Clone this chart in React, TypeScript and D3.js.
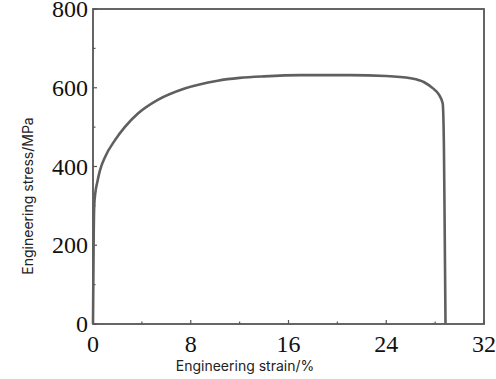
import React from "react";
import * as d3 from "d3";

const strain = [0, 0.03, 0.06, 0.1, 0.2, 0.35, 0.57, 1.0, 1.8, 2.6, 3.7, 5.3, 7.5, 10.2, 12, 14, 17, 21, 24, 26, 27.1, 27.8, 28.3, 28.62, 28.72, 28.78, 28.85];
const stress = [0, 120, 230, 300, 335, 360, 390, 425, 467, 500, 535, 569, 598, 618, 625, 629, 632, 632, 630, 624, 614, 599, 583, 560, 450, 250, 0];
const xTicks = [0, 8, 16, 24, 32];
const xMinor = [4, 12, 20, 28];
const yTicks = [0, 200, 400, 600, 800];
const yMinor = [100, 300, 500, 700];

export default function App() {
  const W = 496, H = 379;
  const L = 93, R = 484, T = 9, B = 324;
  const x = d3.scaleLinear().domain([0, 32]).range([L, R]);
  const y = d3.scaleLinear().domain([0, 800]).range([B, T]);
  const pts = strain.map((s, i) => [s, stress[i]] as [number, number]);
  const line = d3.line<[number, number]>().x(d => x(d[0])).y(d => y(d[1])).curve(d3.curveMonotoneX);
  const axisColor = "#555";
  return (
    <svg width={W} height={H} style={{ position: "absolute", left: 0, top: 0, background: "#fff" }}>
      <rect x={L} y={T} width={R - L} height={B - T} fill="none" stroke={axisColor} strokeWidth={1.8} />
      {xTicks.map(t => (
        <g key={"xt" + t}>
          <line x1={x(t)} x2={x(t)} y1={B} y2={B - 4} stroke={axisColor} strokeWidth={1.2} />
          <text x={x(t)} y={352} textAnchor="middle" fontFamily="Liberation Serif, Times New Roman, serif" fontSize={24} fill="#111">{t}</text>
        </g>
      ))}
      {xMinor.map(t => (
        <line key={"xm" + t} x1={x(t)} x2={x(t)} y1={B} y2={B - 2.5} stroke={axisColor} strokeWidth={1.2} />
      ))}
      {yTicks.map(t => (
        <g key={"yt" + t}>
          <line x1={L} x2={L + 4} y1={y(t)} y2={y(t)} stroke={axisColor} strokeWidth={1.2} />
          <text x={88} y={y(t) + 8} textAnchor="end" fontFamily="Liberation Serif, Times New Roman, serif" fontSize={24} fill="#111">{t}</text>
        </g>
      ))}
      {yMinor.map(t => (
        <line key={"ym" + t} x1={L} x2={L + 2.5} y1={y(t)} y2={y(t)} stroke={axisColor} strokeWidth={1.2} />
      ))}
      <path d={line(pts) || ""} fill="none" stroke="#5f5f5f" strokeWidth={2.6} strokeLinejoin="round" />
      <text x={245} y={371} textAnchor="middle" fontFamily="Inter, Roboto, sans-serif" fontSize={14} fill="#222">Engineering strain/%</text>
      <text transform="translate(33,196) rotate(-90)" textAnchor="middle" fontFamily="Inter, Roboto, sans-serif" fontSize={14} fill="#222">Engineering stress/MPa</text>
    </svg>
  );
}
